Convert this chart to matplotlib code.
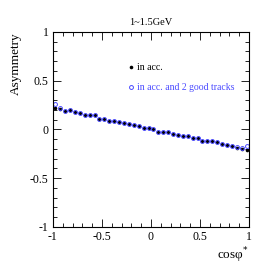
import numpy as np
import matplotlib
matplotlib.use('Agg')
import matplotlib.pyplot as plt
from matplotlib.ticker import MultipleLocator, FuncFormatter

plt.rcParams['font.family'] = ['Liberation Serif', 'DejaVu Serif']

# 40 bins in cos(phi*) from -1 to 1
cos_phi = np.arange(-0.975, 1.0, 0.05)

asym_acc = [0.218, 0.212, 0.193, 0.197, 0.179, 0.166, 0.149, 0.146, 0.146, 0.111,
            0.108, 0.087, 0.087, 0.072, 0.062, 0.059, 0.043, 0.036, 0.015, 0.012,
            0.005, -0.026, -0.029, -0.029, -0.049, -0.062, -0.072, -0.067, -0.092, -0.092,
            -0.118, -0.123, -0.123, -0.128, -0.151, -0.159, -0.172, -0.187, -0.197, -0.213]

asym_good = [0.265, 0.215, 0.193, 0.197, 0.179, 0.166, 0.149, 0.146, 0.146, 0.111,
             0.108, 0.087, 0.087, 0.072, 0.062, 0.059, 0.043, 0.036, 0.015, 0.012,
             0.005, -0.026, -0.029, -0.029, -0.049, -0.062, -0.072, -0.067, -0.092, -0.092,
             -0.118, -0.123, -0.123, -0.128, -0.151, -0.159, -0.172, -0.185, -0.192, -0.166]

blue = '#4a4aff'

fig = plt.figure(figsize=(2.66, 2.66), dpi=100)
ax = fig.add_axes([0.199, 0.147, 0.737, 0.733])

ax.plot(cos_phi, asym_acc, 'o', color='black', markersize=2.6, markeredgewidth=0)
ax.plot(cos_phi, asym_good, 'o', color=blue, markersize=2.8, markerfacecolor='none',
        markeredgewidth=0.7)

ax.set_xlim(-1, 1)
ax.set_ylim(-1, 1)
ax.xaxis.set_major_locator(MultipleLocator(0.5))
ax.yaxis.set_major_locator(MultipleLocator(0.5))
ax.xaxis.set_minor_locator(MultipleLocator(0.1))
ax.yaxis.set_minor_locator(MultipleLocator(0.1))
ax.xaxis.set_major_formatter(FuncFormatter(lambda v, p: f'{v:g}'))
ax.yaxis.set_major_formatter(FuncFormatter(lambda v, p: f'{v:g}'))
ax.tick_params(which='both', direction='in', top=True, right=True, labelsize=8.5, width=0.6)
ax.tick_params(which='major', length=6, pad=3)
ax.tick_params(which='minor', length=3)
for s in ax.spines.values():
    s.set_linewidth(0.8)

ax.set_title('1~1.5GeV', fontsize=7.5, pad=5)
ax.set_ylabel('Asymmetry', fontsize=9.5, loc='top', labelpad=6)
ax.set_xlabel('cosφ$^{*}$', fontsize=9.5, loc='right', labelpad=2)

# legend drawn as text like the original
ax.plot([-0.2], [0.64], 'o', color='black', markersize=2.6, markeredgewidth=0)
ax.text(-0.14, 0.64, 'in acc.', fontsize=7, va='center', color='black')
ax.plot([-0.2], [0.43], 'o', color=blue, markersize=2.8, markerfacecolor='none', markeredgewidth=0.7)
ax.text(-0.14, 0.43, 'in acc. and 2 good tracks', fontsize=7, va='center', color=blue)

fig.savefig('out.png', dpi=100)
